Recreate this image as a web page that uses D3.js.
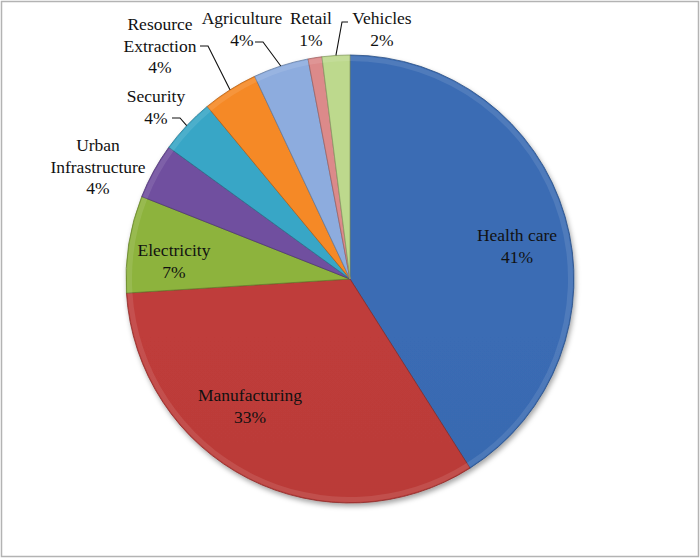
<!DOCTYPE html>
<html>
<head>
  <meta charset="utf-8">
  <title>Sector share pie</title>
  <script src="https://d3js.org/d3.v7.min.js"></script>
  <style>
    body {
      margin: 0;
      padding: 0;
      background: white;
    }
  </style>
</head>
<body>
  <div id="chart"></div>

  <script>
    // chart data
    var categories = ["Health care", "Manufacturing", "Electricity", "Urban Infrastructure",
                      "Security", "Resource Extraction", "Agriculture", "Retail", "Vehicles"];
    var values = [41, 33, 7, 4, 4, 4, 4, 1, 2];
    var colors = ["#3868ae", "#b83a38", "#88ad3c", "#6c4c99", "#36a0bf",
                  "#ec8426", "#88a6d6", "#d48585", "#b6d188"];

    // label text lines (category split as in the picture)
    var labelLines = [["Health care"], ["Manufacturing"], ["Electricity"], ["Urban", "Infrastructure"],
                      ["Security"], ["Resource", "Extraction"], ["Agriculture"], ["Retail"], ["Vehicles"]];

    var width = 700, height = 559;
    var cx = 350, cy = 279, r = 224;
    var lineH = 21.5;
    var labelFont = "'Liberation Serif', 'Times New Roman', Tinos, 'DejaVu Serif', serif";

    // where each label block sits (centre of first line), and where its leader line starts
    var labelLayout = [
      { x: 517, y: 235 },
      { x: 250, y: 395 },
      { x: 174, y: 250 },
      { x: 98,  y: 145 },
      { x: 156, y: 96,  lead: [172, 118] },
      { x: 160, y: 24,  lead: [200, 46] },
      { x: 242, y: 18,  lead: [255, 42] },
      { x: 311, y: 18 },
      { x: 382, y: 18,  lead: [348, 22] }
    ];

    var svg = d3.select("#chart")
      .append("svg")
        .attr("width", width)
        .attr("height", height);

    svg.append("rect")
        .attr("x", 1.5).attr("y", 1.5)
        .attr("width", width - 3).attr("height", height - 4)
        .attr("fill", "white")
        .attr("stroke", "#b3b3b3")
        .attr("stroke-width", 1.5);

    var defs = svg.append("defs");

    var shadow = defs.append("filter")
        .attr("id", "shadow")
        .attr("x", "-10%").attr("y", "-10%")
        .attr("width", "125%").attr("height", "125%");
    shadow.append("feDropShadow")
        .attr("dx", 1.5).attr("dy", 3)
        .attr("stdDeviation", 2.5)
        .attr("flood-color", "#000")
        .attr("flood-opacity", 0.35);

    // one vertical gradient per slice, slightly lighter at the top
    colors.forEach(function(c, i) {
      var g = defs.append("linearGradient")
          .attr("id", "grad" + i)
          .attr("gradientUnits", "userSpaceOnUse")
          .attr("x1", 0).attr("y1", cy - r)
          .attr("x2", 0).attr("y2", cy + r);
      g.append("stop").attr("offset", "0%").attr("stop-color", d3.color(c).brighter(0.1));
      g.append("stop").attr("offset", "50%").attr("stop-color", c);
      g.append("stop").attr("offset", "100%").attr("stop-color", d3.color(c).darker(0.3));
    });

    var pie = d3.pie()
        .sort(null)
        .value(function(d) { return d; });

    var arcs = pie(values);

    var arc = d3.arc()
        .innerRadius(0)
        .outerRadius(r);

    var g = svg.append("g")
        .attr("transform", "translate(" + cx + "," + cy + ")");

    var slices = g.append("g").attr("filter", "url(#shadow)");

    slices.selectAll("path")
        .data(arcs)
      .enter().append("path")
        .attr("d", arc)
        .attr("fill", function(d, i) { return "url(#grad" + i + ")"; })
        .attr("stroke", function(d, i) { return d3.color(colors[i]).darker(0.8); })
        .attr("stroke-width", 0.8)
        .attr("stroke-linejoin", "round");

    // soft bevel along the rim of each slice
    var rim = d3.arc()
        .innerRadius(r - 6)
        .outerRadius(r - 1);

    g.append("g").selectAll("path")
        .data(arcs)
      .enter().append("path")
        .attr("d", rim)
        .attr("fill", "white")
        .attr("opacity", 0.1);

    // leader lines: label -> short elbow -> middle of the slice's rim
    var edge = d3.arc().innerRadius(r).outerRadius(r);

    arcs.forEach(function(d, i) {
      var lay = labelLayout[i];
      if (!lay.lead) return;
      var p = edge.centroid(d);
      var end = [p[0] + cx, p[1] + cy];
      var start = lay.lead;
      var elbow = [start[0] + (end[0] > start[0] ? 8 : -6), start[1]];
      svg.append("polyline")
          .attr("points", [start, elbow, end].map(function(q) { return q.join(","); }).join(" "))
          .attr("fill", "none")
          .attr("stroke", "#111")
          .attr("stroke-width", 1.1);
    });

    // labels
    arcs.forEach(function(d, i) {
      var lay = labelLayout[i];
      var lines = labelLines[i].concat([values[i] + "%"]);
      var t = svg.append("text")
          .attr("font-family", labelFont)
          .style("font-family", labelFont)
          .attr("font-size", 17.5)
          .attr("fill", "#111")
          .attr("text-anchor", "middle");
      lines.forEach(function(s, k) {
        t.append("tspan")
            .attr("x", lay.x)
            .attr("y", lay.y + k * lineH)
            .attr("dominant-baseline", "central")
            .text(s);
      });
    });
  </script>
</body>
</html>
